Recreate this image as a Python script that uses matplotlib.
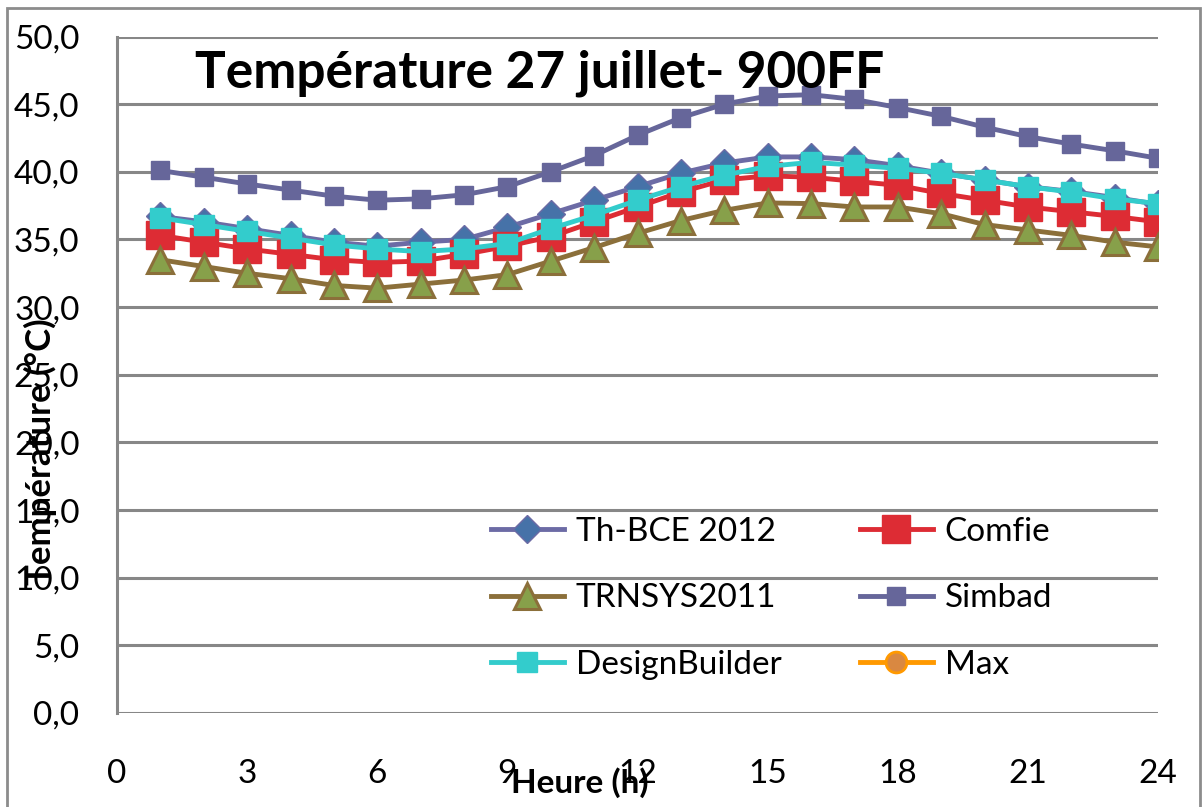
import matplotlib
matplotlib.use("Agg")
import matplotlib.pyplot as plt
from matplotlib.patches import Rectangle
from matplotlib.ticker import FuncFormatter
import numpy as np

plt.rcParams['font.family'] = ['Lato', 'DejaVu Sans']

#%% Hourly temperatures, 27 July
hours = list(range(1, 25))

th_bce = [36.7, 36.3, 35.8, 35.3, 34.8, 34.5, 34.8, 35.0, 35.9, 36.9, 37.9, 38.9,
          39.9, 40.65, 41.1, 41.1, 40.9, 40.45, 39.9, 39.4, 38.9, 38.55, 38.1, 37.6]
comfie = [35.3, 34.8, 34.3, 33.9, 33.5, 33.3, 33.4, 33.9, 34.5, 35.2, 36.3, 37.4,
          38.5, 39.4, 39.7, 39.6, 39.3, 39.0, 38.4, 37.9, 37.4, 37.05, 36.7, 36.3]
trnsys = [33.5, 33.0, 32.5, 32.1, 31.6, 31.4, 31.7, 32.0, 32.4, 33.4, 34.4, 35.45,
          36.4, 37.15, 37.7, 37.65, 37.4, 37.4, 36.9, 36.1, 35.7, 35.3, 34.8, 34.45]
simbad = [40.1, 39.6, 39.1, 38.65, 38.2, 37.9, 38.0, 38.3, 38.9, 40.0, 41.2, 42.7,
          44.0, 45.0, 45.6, 45.7, 45.35, 44.75, 44.1, 43.3, 42.6, 42.05, 41.55, 41.0]
designbuilder = [36.6, 36.1, 35.6, 35.1, 34.6, 34.3, 34.1, 34.3, 34.7, 35.8, 36.8, 37.9,
                 38.9, 39.75, 40.4, 40.7, 40.5, 40.25, 39.9, 39.4, 38.9, 38.5, 38.0, 37.65]
max_hours = []
max_vals = []

x_ticks = np.arange(0, 25, 3)
y_ticks = np.arange(0, 51, 5)

#%% Figure
fig = plt.figure(figsize=(12.03, 8.07), dpi=100)
ax = fig.add_axes([117/1203, 1 - 713/807, (1158-117)/1203, (713-36.5)/807])

grid_col = '#878787'

l1, = ax.plot(hours, th_bce, color='#6c6ba5', lw=3.5, marker='D', ms=14,
              mfc='#4672a8', mec='#6c6ba5', mew=1, label='Th-BCE 2012')
l2, = ax.plot(hours, comfie, color='#dd2c34', lw=3.5, marker='s', ms=20,
              mfc='#dd2c34', mec='#dd2c34', label='Comfie')
l3, = ax.plot(hours, trnsys, color='#8b6f3a', lw=3.5, marker='^', ms=19,
              mfc='#87a04a', mec='#8b6f3a', mew=2.2, label='TRNSYS2011')
l4, = ax.plot(hours, simbad, color='#66669a', lw=3.5, marker='s', ms=13,
              mfc='#66669a', mec='#66669a', label='Simbad')
l5, = ax.plot(hours, designbuilder, color='#33cccc', lw=3.5, marker='s', ms=15,
              mfc='#33cccc', mec='#33cccc', label='DesignBuilder')
l6, = ax.plot(max_hours, max_vals, color='#ff9900', lw=3.5, marker='o', ms=15,
              mfc='#d98841', mec='#ff9900', mew=2, label='Max')

ax.set_xlim(0, 24)
ax.set_ylim(0, 50)
ax.set_xticks(x_ticks)
ax.set_yticks(y_ticks)
ax.yaxis.set_major_formatter(FuncFormatter(lambda v, p: f"{v:.1f}".replace('.', ',')))
ax.tick_params(axis='both', length=0, labelsize=24)
ax.tick_params(axis='y', pad=27)
ax.tick_params(axis='x', pad=33)

ax.yaxis.grid(True, color=grid_col, lw=2.2)
ax.set_axisbelow(True)
for s in ['right', 'top', 'bottom']:
    ax.spines[s].set_visible(False)
ax.spines['left'].set_color(grid_col)
ax.spines['left'].set_linewidth(2.2)

# titles
fig.text(195/1203, 1 - 73/807, 'Température 27 juillet- 900FF', fontsize=37,
         fontweight='bold', ha='left', va='center')
fig.text(40/1203, 1 - 452/807, 'Température (°C)', fontsize=25, fontweight='bold',
         rotation=90, ha='center', va='center')
fig.text(580/1203, 1 - 783/807, 'Heure (h)', fontsize=24, fontweight='bold',
         ha='center', va='center')

# legend, row order as in Excel
handles = [l1, l3, l5, l2, l4, l6]
fig.legend(handles=handles, labels=[h.get_label() for h in handles], ncol=2,
           loc='upper left', bbox_to_anchor=(474/1203, 1 - 500/807),
           frameon=False, fontsize=24, borderpad=0, handlelength=2.2,
           handletextpad=0.35, columnspacing=2.35, labelspacing=1.1)

# outer chart border
fig.patches.append(Rectangle((7/1203, -0.1), (1200-7)/1203, 1.1 - 8/807,
                             transform=fig.transFigure, fill=False,
                             edgecolor='#8c8c8c', lw=2))

fig.savefig('out.png', dpi=100, facecolor='white')
